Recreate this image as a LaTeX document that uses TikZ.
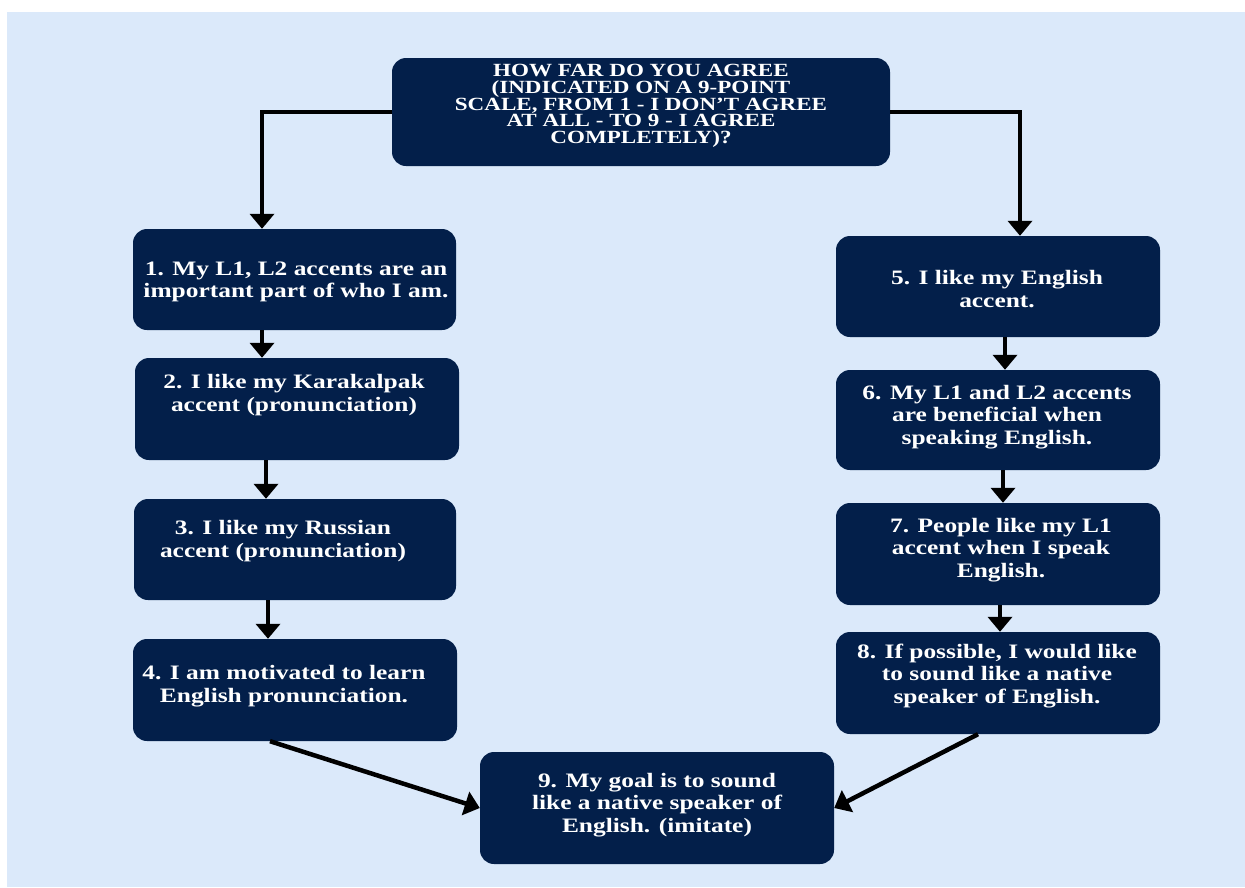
\documentclass[tikz,border=0pt]{standalone}
\usepackage{fontspec}
\setmainfont{Liberation Serif}[FakeStretch=1.24]
\usetikzlibrary{arrows.meta,calc}
\definecolor{bgblue}{RGB}{219,233,250}
\definecolor{navy}{RGB}{3,31,74}
\tikzset{
  box/.style={fill=navy, rounded corners=14pt, inner sep=0pt, draw=none},
  txt/.style={text=white, align=center, font=\fontsize{20.5}{22.5}\selectfont\bfseries, inner sep=0pt},
  toptxt/.style={text=white, align=center, font=\fontsize{18.6}{16.6}\selectfont\bfseries, inner sep=0pt},
  arr/.style={line width=4.5pt, -{Triangle[width=24pt,length=15pt]}},
}
\begin{document}
\begin{tikzpicture}[x=1pt,y=-1pt]
\useasboundingbox (0,0) rectangle (1245,887);
\fill[white] (0,0) rectangle (1245,887);
\fill[bgblue] (7,12) rectangle (1245,887);

\node[box, minimum width=498pt, minimum height=108pt] (top) at (641,112) {};
\node[toptxt] (ttop) at (641,106) {HOW FAR DO YOU AGREE\\(INDICATED ON A 9-POINT\\SCALE, FROM 1 - I DON{\char"0027}T AGREE\\AT ALL - TO 9 - I AGREE\\COMPLETELY)?};

\node[box, minimum width=323pt, minimum height=101pt] (b1) at (294.5,279.5) {};
\node[txt] (t1) at (296,282) {1. My L1, L2 accents are an\\important part of who I am.};

\node[box, minimum width=324pt, minimum height=102pt] (b2) at (297,409) {};
\node[txt] (t2) at (294,395) {2. I like my Karakalpak\\accent (pronunciation)};

\node[box, minimum width=322pt, minimum height=101pt] (b3) at (295,549.5) {};
\node[txt] (t3) at (283,541) {3. I like my Russian\\accent (pronunciation)};

\node[box, minimum width=324pt, minimum height=102pt] (b4) at (295,690) {};
\node[txt] (t4) at (284,686) {4. I am motivated to learn\\English pronunciation.};

\node[box, minimum width=324pt, minimum height=101pt] (b5) at (998,286.5) {};
\node[txt] (t5) at (997,289) {5. I like my English\\accent.};

\node[box, minimum width=324pt, minimum height=100pt] (b6) at (998,420) {};
\node[txt] (t6) at (997,417) {6. My L1 and L2 accents\\are beneficial when\\speaking English.};

\node[box, minimum width=324pt, minimum height=102pt] (b7) at (998,554) {};
\node[txt] (t7) at (1001,550) {7. People like my L1\\accent when I speak\\English.};

\node[box, minimum width=324pt, minimum height=102pt] (b8) at (998,683) {};
\node[txt] (t8) at (997,676) {8. If possible, I would like\\to sound like a native\\speaker of English.};

\node[box, minimum width=354pt, minimum height=112pt] (b9) at (657,808) {};
\node[txt] (t9) at (657,805) {9. My goal is to sound\\like a native speaker of\\English. (imitate)};

% connectors
\draw[arr] (top.west) -| ([xshift=-32.5pt]b1.north);
\draw[arr] (top.east) -| ([xshift=22pt]b5.north);
\draw[arr] ([xshift=-32.5pt]b1.south) -- ([xshift=-32.5pt]b1.south |- b2.north);
\draw[arr] ([xshift=-31pt]b2.south) -- ([xshift=-31pt]b2.south |- b3.north);
\draw[arr] ([xshift=-27pt]b3.south) -- ([xshift=-27pt]b3.south |- b4.north);
\draw[arr] ([xshift=7pt]b5.south) -- ([xshift=7pt]b5.south |- b6.north);
\draw[arr] ([xshift=5pt]b6.south) -- ([xshift=5pt]b6.south |- b7.north);
\draw[arr] ([xshift=2pt]b7.south) -- ([xshift=2pt]b7.south |- b8.north);
\draw[arr] ([xshift=-25pt]b4.south) -- (b9.west);
\draw[arr] ([xshift=-20pt]b8.south) -- (b9.east);
\end{tikzpicture}
\end{document}
